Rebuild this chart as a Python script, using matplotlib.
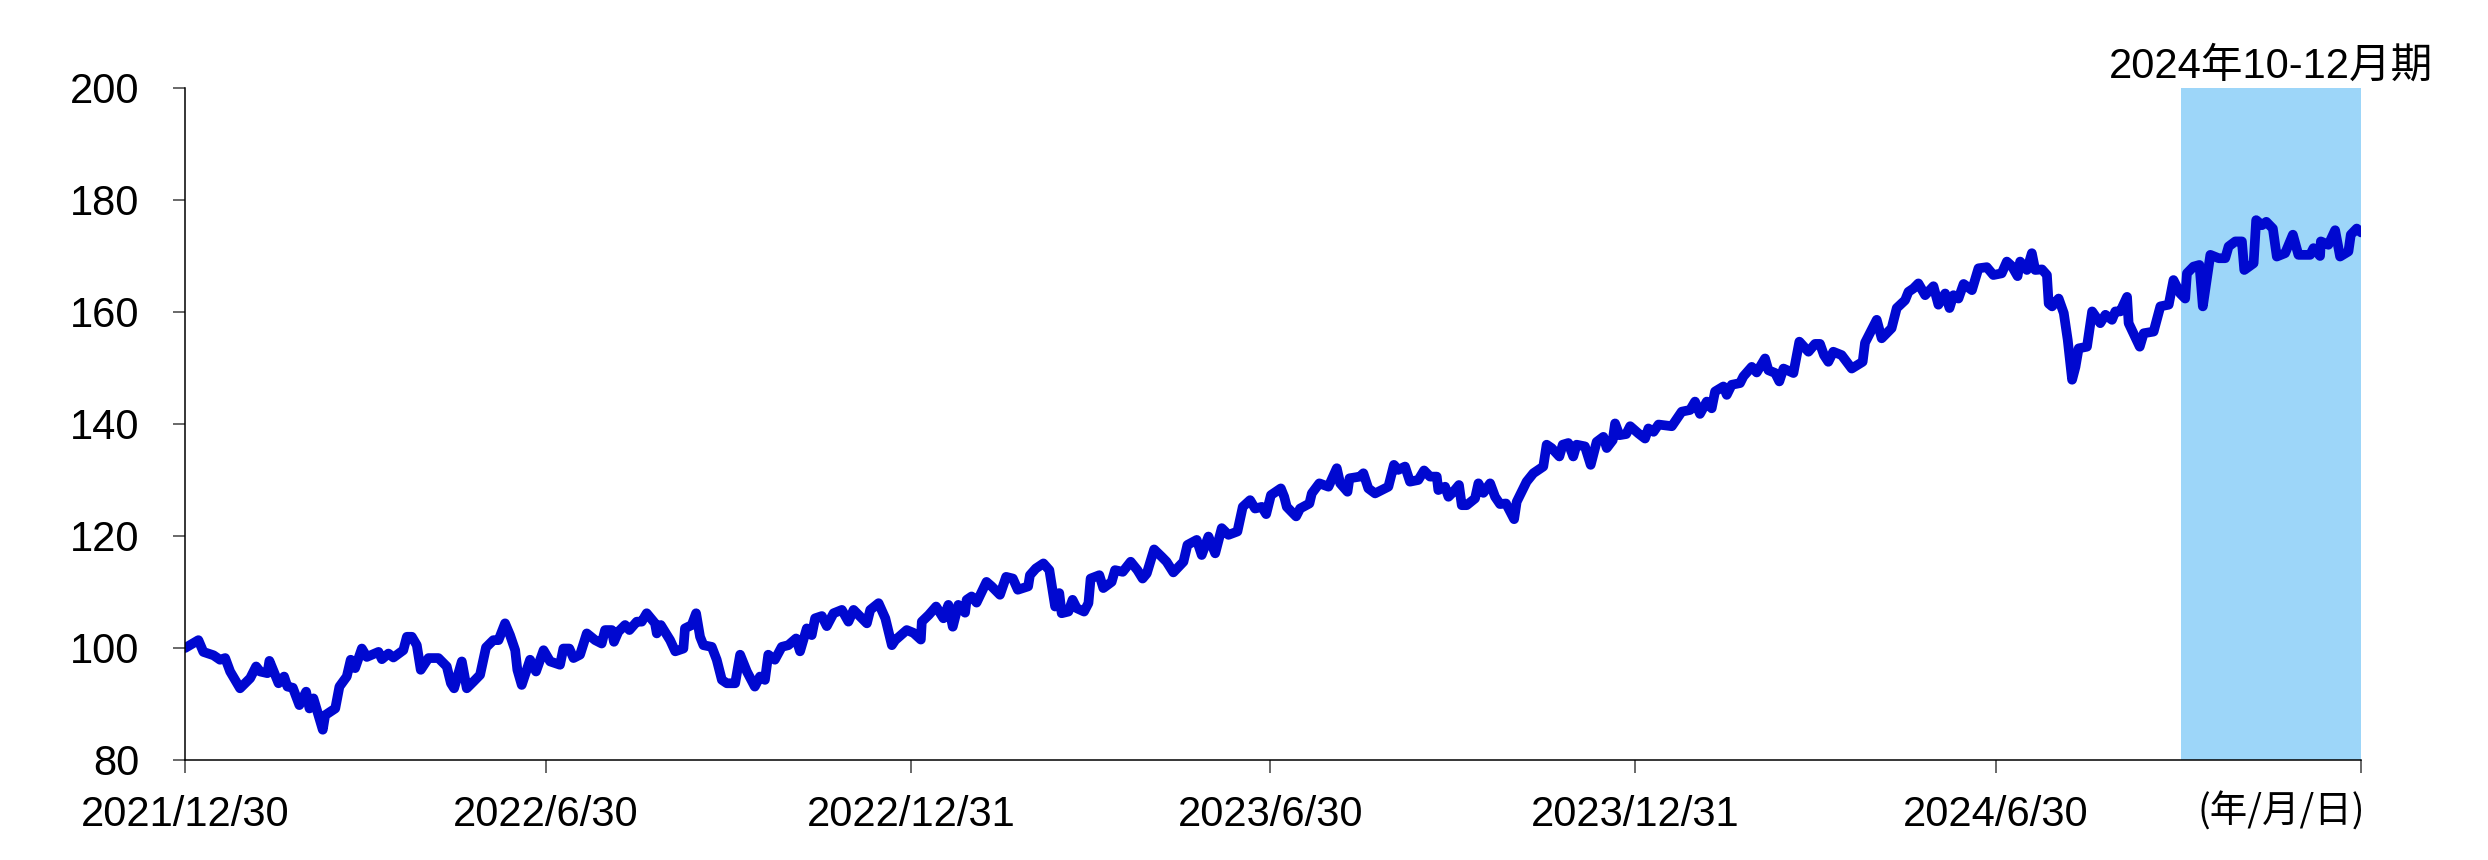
import numpy as np
import pandas as pd
import matplotlib
matplotlib.use("Agg")
import matplotlib.pyplot as plt
import matplotlib.dates as mdates

plt.rcParams['font.family'] = ['Liberation Sans', 'Noto Sans CJK JP', 'DejaVu Sans']

# index level, days counted from 2021/12/30
start = pd.Timestamp('2021-12-30')
day_offset = [
    0, 6.7, 9.2, 14.3, 17.6, 20.2, 22.7, 27.7, 32.8, 35.8,
    37.8, 41.5, 42.5, 47.1, 49.9, 51.6, 54.3, 57.6, 61, 62.7,
    64.7, 67.2, 69.4, 70.6, 75.7, 77.8, 81.5, 83.5, 85.7, 89.1,
    91.6, 97.5, 99.2, 102.5, 105, 110, 111.8, 114.3, 116.8, 118.8,
    122.7, 127.7, 131.9, 134, 135.6, 139.5, 142, 145.4, 148.7, 151.7,
    155.4, 158, 161.3, 163.8, 166.4, 167.5, 169.7, 173.9, 176.9,
    180.7, 184, 189, 190.7, 193.7, 195.8, 199.1, 202.5, 206.7, 210,
    211.7, 215.1, 216.2, 218.4, 221.8, 224, 227.7, 230.2, 232.7, 236.9,
    237.8, 239.8, 244.5, 247.1, 251.2, 252, 255.4, 257.6, 259.6, 261.3,
    265.5, 268, 270.6, 273.1, 277.3, 279.8, 283.2, 287.2, 289.8, 292.3,
    294, 297.3, 300.8, 304.1, 308, 310, 313.4, 315.9, 317.6, 321,
    323.5, 326.9, 331.1, 334.4, 337, 339.5, 343.7, 345.4, 349.6, 353,
    356.3, 358,
    363.8, 367.2, 370.9, 371.4, 374.9, 378.6, 382.3, 384.8, 387, 389.8,
    393.2, 394, 396.5, 399, 404, 406.6, 410.8, 413.9, 417.3, 419.8,
    425, 425.9, 428.9, 432.7, 435.7, 438.6, 440.7, 441.9, 445.3, 447.4,
    449.5, 453.2, 455.4, 456.5, 460.9, 462.9, 467.1, 468.8, 472.7, 476.7,
    480.1, 482.7, 484.8, 488.5, 492.3, 494.8, 498.2, 503.3, 505.3, 510,
    512.5, 515.9, 519.3, 522.6, 526, 530.5, 533.2, 536.9, 539.4, 542.8,
    545, 547.4,
    552.4, 554.1, 555.4, 560.1, 562.1, 566.8, 568, 571.8, 576.4, 580.6,
    582.3, 586, 587, 592.3, 594, 596.5, 599.9, 603.2, 606.6, 609.4,
    611.6, 615, 617.5, 621.7, 624.6, 627.6, 631, 631.8, 635.2, 636.9,
    639.4, 642.2, 643.6, 646.1, 650.3, 652, 654.5, 657.9, 660.4, 662.9,
    665.9, 670, 671.3, 676.3, 679.7, 684.7, 686.4, 688.9, 692.8, 694.5,
    697.3, 699.8, 701.5, 705.7, 708.6, 711.6, 715, 716.7, 719.7, 720.9,
    723.1, 726.5, 728.5, 732.7,
    736, 737.7, 740.3, 742.8, 749.5, 754.5, 758.7, 761.2, 763.7, 767.1,
    769.6, 771.3, 775.5, 777.2, 779.7, 783.9, 785.6, 789.8, 792.3, 796.5,
    798.2, 801.6, 803.7, 805.8, 810.8, 813.8, 818.4, 821.7, 824.2, 826.2,
    828.4, 830.9, 835.1, 840.2, 845.7, 846.9, 852.8, 855.3, 860.3, 862.9,
    867.1, 868.8, 871.3, 873.8, 877.2, 881.4, 883.9, 887.3, 889.5, 891.5,
    894, 896.6, 900.8, 904.1,
    908.3, 911.6, 915.8, 918.4, 920.9, 923.8, 925.1, 928.5, 931, 932.7,
    936.1, 938.6, 939.5, 941.2, 944.5, 947.1, 949.1, 951.3, 953, 954.6,
    958.8, 961.4, 965.5, 968.1, 971.4, 973.1, 975.6, 979, 979.8, 985.4,
    987.4, 992.4, 995.8, 1000, 1002.4, 1005.8, 1008.3, 1009.2, 1012.5, 1015.5,
    1017.2, 1021, 1025.2, 1028.5, 1030.2, 1033.6, 1036.9, 1038.1, 1042.8, 1044.1,
    1047, 1049.2, 1052.5, 1054.5, 1058.7, 1062.6, 1065.4, 1071.3, 1073, 1076.3,
    1076.7, 1080.5, 1083.9, 1086.4, 1090.6, 1091.8, 1094.8, 1097,
]
index_value = [
    100.0, 101.4, 99.3, 98.7, 97.9, 98.2, 95.8, 92.8, 94.6, 96.7,
    95.8, 95.5, 97.7, 93.7, 94.9, 93.1, 92.9, 89.8, 92.2, 89.2,
    91.0, 88.0, 85.4, 88.0, 89.2, 93.1, 94.9, 97.9, 96.4, 99.9,
    98.4, 99.3, 98.0, 99.0, 98.3, 99.6, 102.0, 102.0, 100.5, 96.1,
    98.2, 98.2, 96.7, 93.7, 92.8, 97.6, 92.8, 94.0, 95.2, 100.1,
    101.4, 101.4, 104.4, 102.3, 99.6, 96.1, 93.4, 97.9, 95.8,
    99.6, 97.6, 97.0, 99.9, 99.9, 98.2, 98.8, 102.6, 101.4, 100.8,
    103.2, 103.2, 101.1, 102.9, 104.1, 103.2, 104.7, 104.7, 106.2, 104.4,
    102.6, 104.1, 101.4, 99.4, 99.9, 103.5, 104.1, 106.2, 102.0, 100.5,
    100.2, 97.9, 94.3, 93.7, 93.7, 98.8, 95.8, 93.1, 94.9, 94.3,
    98.8, 97.9, 100.2, 100.5, 101.7, 99.4, 103.5, 102.3, 105.3, 105.7,
    103.9, 106.2, 106.8, 104.7, 106.8, 105.9, 104.4, 106.8, 108.0, 105.3,
    100.5, 101.4,
    103.2, 102.7, 101.5, 104.7, 105.9, 107.4, 105.3, 107.7, 103.8, 107.7,
    106.3, 108.6, 109.2, 108.1, 111.8, 111.0, 109.5, 112.7, 112.4, 110.4,
    111.0, 113.0, 114.2, 115.1, 113.9, 107.4, 109.8, 106.2, 106.5, 108.6,
    107.1, 106.5, 108.0, 112.4, 113.0, 110.7, 111.8, 113.9, 113.6, 115.4,
    113.9, 112.4, 113.3, 117.6, 116.3, 115.4, 113.5, 115.4, 118.4, 119.3,
    116.6, 119.9, 116.9, 121.4, 120.2, 120.8, 125.2, 126.4, 124.9, 125.2,
    123.9, 127.3,
    128.5, 127.0, 125.2, 123.5, 124.9, 125.8, 127.6, 129.4, 128.8, 132.1,
    129.4, 127.9, 130.3, 130.6, 131.2, 128.5, 127.6, 128.2, 128.8, 132.7,
    131.8, 132.4, 129.7, 130.0, 131.7, 130.6, 130.6, 128.2, 128.8, 127.0,
    127.9, 129.1, 125.5, 125.5, 126.7, 129.4, 127.7, 129.4, 127.0, 125.7,
    125.8, 123.0, 126.1, 129.7, 131.2, 132.4, 136.3, 135.7, 134.2, 136.3,
    136.6, 134.2, 136.3, 136.0, 132.7, 136.8, 137.7, 135.7, 137.1, 140.1,
    138.0, 138.2, 139.6, 138.3,
    137.4, 139.2, 138.6, 139.9, 139.6, 142.2, 142.5, 144.0, 141.8, 144.0,
    142.8, 145.8, 146.7, 145.2, 147.0, 147.3, 148.5, 150.2, 149.2, 151.7,
    149.6, 149.1, 147.6, 149.9, 149.1, 154.7, 152.9, 154.3, 154.3, 152.3,
    151.1, 152.9, 152.3, 149.9, 151.1, 154.5, 158.6, 155.3, 157.1, 160.7,
    162.1, 163.6, 164.2, 165.1, 163.0, 164.6, 161.3, 163.3, 160.7, 163.0,
    162.4, 165.0, 163.9, 167.8,
    168.0, 166.6, 166.9, 169.0, 168.2, 166.4, 169.0, 167.5, 170.5, 167.5,
    167.6, 166.6, 161.5, 161.0, 162.4, 159.8, 155.0, 147.9, 150.2, 153.5,
    153.8, 160.1, 158.0, 159.5, 158.6, 160.1, 160.1, 162.7, 158.0, 153.8,
    156.2, 156.5, 161.0, 161.3, 165.7, 163.3, 162.4, 166.9, 168.1, 168.4,
    161.0, 170.2, 169.6, 169.6, 171.7, 172.6, 172.6, 167.5, 168.7, 176.4,
    175.5, 176.1, 174.9, 169.9, 170.5, 173.8, 170.2, 170.2, 171.4, 170.0,
    172.6, 172.0, 174.6, 169.9, 170.8, 173.8, 174.9, 174.2,
]

tick_dates = ['2021-12-30', '2022-06-30', '2022-12-31', '2023-06-30',
              '2023-12-31', '2024-06-30', '2024-12-31']
tick_labels = ['2021/12/30', '2022/6/30', '2022/12/31', '2023/6/30',
               '2023/12/31', '2024/6/30', '']
y_ticks = [80, 100, 120, 140, 160, 180, 200]
shade_start, shade_end = '2024-10-01', '2024-12-31'
shade_label = '2024年10-12月期'
unit_label = '(年/月/日)'

dates = start + pd.to_timedelta(day_offset, unit='D')

fig = plt.figure(figsize=(24.88, 8.6), dpi=100)
ax = fig.add_axes([0.0744, 0.1163, 0.8746, 0.7814])

ax.axvspan(pd.Timestamp(shade_start), pd.Timestamp(shade_end), color='#9dd6f9', lw=0, zorder=0)
ax.plot(dates, index_value, color='#0008d0', lw=7, solid_joinstyle='round',
        solid_capstyle='round', zorder=3)

ax.set_xlim(pd.Timestamp(tick_dates[0]), pd.Timestamp(tick_dates[-1]))
ax.set_ylim(80, 200)
ax.set_yticks(y_ticks)
ax.set_xticks([pd.Timestamp(d) for d in tick_dates])
ax.set_xticklabels(tick_labels)

for s in ['top', 'right']:
    ax.spines[s].set_visible(False)
for s in ['left', 'bottom']:
    ax.spines[s].set_linewidth(1.1)
    ax.spines[s].set_color('black')
    ax.spines[s].set_zorder(4)

ax.tick_params(axis='y', direction='out', length=9, width=1.1, color='#404040',
               labelsize=30, pad=24)
ax.tick_params(axis='x', direction='out', length=9, width=1.1, color='#404040',
               labelsize=30, pad=16)

mid = pd.Timestamp(shade_start) + (pd.Timestamp(shade_end) - pd.Timestamp(shade_start)) / 2
ax.text(mdates.date2num(mid), 1.015, shade_label, transform=ax.get_xaxis_transform(),
        ha='center', va='baseline', fontsize=30)

ax.annotate(unit_label, xy=(mdates.date2num(pd.Timestamp(tick_dates[-1])), 0),
            xycoords=ax.get_xaxis_transform(), xytext=(3, -45), textcoords='offset points',
            ha='right', va='baseline', fontsize=27,
            family=['Noto Sans CJK JP', 'Liberation Sans'])

fig.savefig('out.png', dpi=100)
